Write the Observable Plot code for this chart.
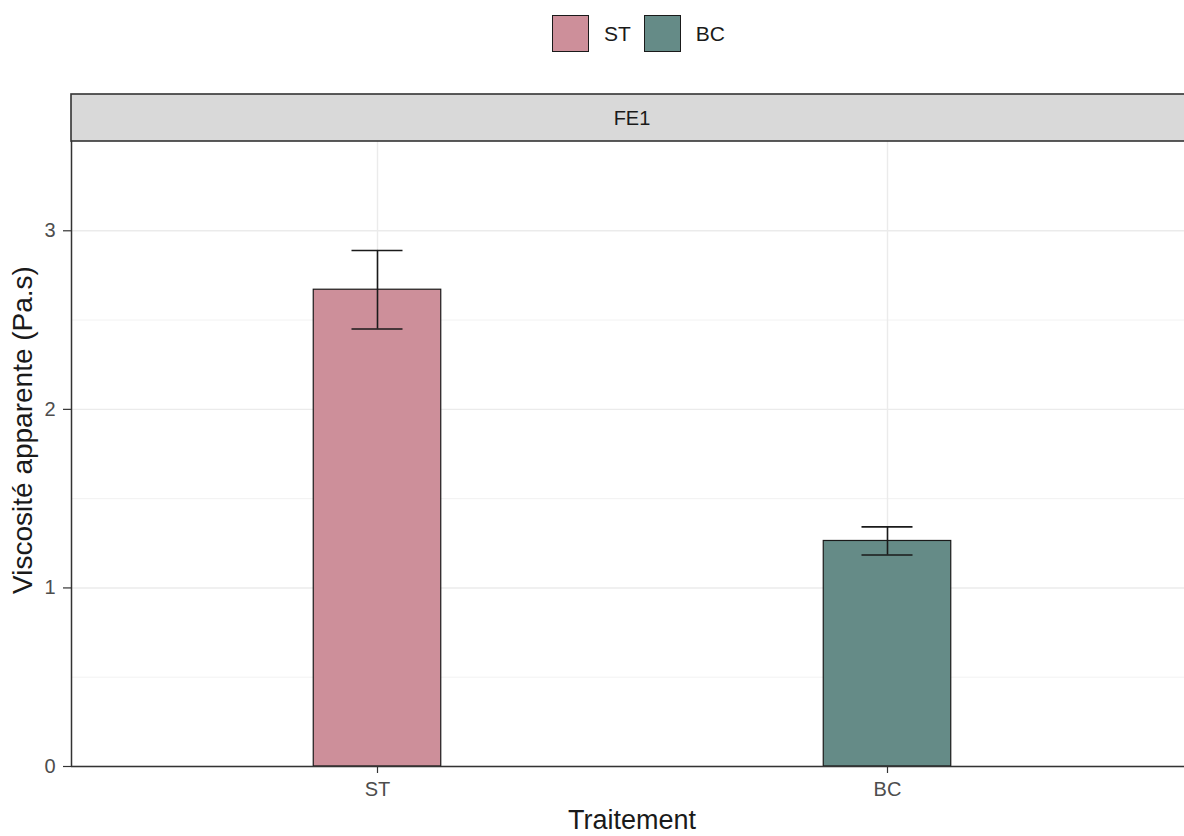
<!DOCTYPE html>
<html>
<head>
<meta charset="utf-8">
<script src="https://cdn.jsdelivr.net/npm/d3@7"></script>
<script src="https://cdn.jsdelivr.net/npm/@observablehq/plot@0.6"></script>
<style>
  html, body { margin: 0; padding: 0; background: #fff; overflow: hidden; }
  #wrap { position: relative; width: 1184px; height: 836px; overflow: hidden; font-family: Arial, "Liberation Sans", sans-serif; }
  #legend { position: absolute; top: 15px; left: 552px; display: flex; align-items: center; }
  .key { display: flex; align-items: center; }
  .sw { width: 37px; height: 37px; border: 1.6px solid #1a1a1a; box-sizing: border-box; }
  .lab { font-size: 21px; color: #1a1a1a; margin-left: 15px; margin-right: 13px; }
  #chart { position: absolute; top: 0; left: 0; }
</style>
</head>
<body>
<div id="wrap"><div id="chart"></div><div id="legend"></div></div>
<script>
const facet = "FE1";
const treatments = ["ST", "BC"];
const means = [2.67, 1.263];
const errors = [0.22, 0.079];
const colors = ["#CD8F9A", "#658B87"];
const yTicks = [0, 1, 2, 3];
const yMinor = [0.5, 1.5, 2.5];
const yTitle = "Viscosité apparente (Pa.s)";
const xTitle = "Traitement";

const data = treatments.map((t, i) => ({t, pos: i + 1, mean: means[i], se: errors[i]}));
const barHalf = 0.125, capHalf = 0.05;

// legend
const leg = document.getElementById("legend");
treatments.forEach((t, i) => {
  const k = document.createElement("div"); k.className = "key";
  const s = document.createElement("div"); s.className = "sw"; s.style.background = colors[i];
  const l = document.createElement("span"); l.className = "lab"; l.textContent = t;
  k.appendChild(s); k.appendChild(l); leg.appendChild(k);
});

const W = 1184, H = 836, mT = 141, mB = 70, mL = 71;
const plot = Plot.plot({
  width: W, height: H,
  marginTop: mT, marginBottom: mB, marginLeft: mL, marginRight: 0,
  style: {fontFamily: "Arial, 'Liberation Sans', sans-serif", background: "white"},
  x: {type: "linear", domain: [0.4, 2.6], range: [mL, mL + 2.2 * 510]},
  y: {domain: [0, 3.5], range: [H - mB, mT]},
  color: {domain: treatments, range: colors},
  marks: [
    Plot.ruleY(yMinor, {stroke: "#f2f2f2", strokeWidth: 1}),
    Plot.ruleY(yTicks, {stroke: "#ebebeb", strokeWidth: 1.4}),
    Plot.ruleX(data, {x: "pos", stroke: "#ebebeb", strokeWidth: 1.4}),
    Plot.rectY(data, {x1: d => d.pos - barHalf, x2: d => d.pos + barHalf, y1: 0, y2: "mean", fill: "t", stroke: "#1a1a1a", strokeWidth: 1.2}),
    Plot.ruleX(data, {x: "pos", y1: d => d.mean - d.se, y2: d => d.mean + d.se, stroke: "#1a1a1a", strokeWidth: 1.6}),
    Plot.ruleY(data, {y: d => d.mean + d.se, x1: d => d.pos - capHalf, x2: d => d.pos + capHalf, stroke: "#1a1a1a", strokeWidth: 1.6}),
    Plot.ruleY(data, {y: d => d.mean - d.se, x1: d => d.pos - capHalf, x2: d => d.pos + capHalf, stroke: "#1a1a1a", strokeWidth: 1.6}),
    Plot.axisY({ticks: yTicks, tickSize: 8, tickPadding: 8, tickFormat: d => d, label: null, fontSize: 20, color: "#4d4d4d", stroke: "#333", strokeWidth: 1.2}),
    Plot.axisX({ticks: data.map(d => d.pos), tickSize: 7, tickPadding: 8, tickFormat: v => treatments[v - 1], label: null, fontSize: 20, color: "#4d4d4d", stroke: "#333", strokeWidth: 1.2}),
    Plot.ruleX([0.4], {stroke: "#333", strokeWidth: 1.5}),
    Plot.ruleY([0], {stroke: "#333", strokeWidth: 1.5})
  ]
});
document.getElementById("chart").appendChild(plot);

// strip and titles
const svg = d3.select(plot);
const xs = plot.scale("x");
const panelL = mL, panelR = xs.range[1];
svg.append("rect").attr("x", panelL).attr("y", 94).attr("width", panelR - panelL).attr("height", mT - 94)
  .attr("fill", "#d9d9d9").attr("stroke", "#333").attr("stroke-width", 1.6);
svg.append("text").attr("x", (panelL + panelR) / 2).attr("y", 118).attr("text-anchor", "middle")
  .attr("dominant-baseline", "central").attr("font-size", 20).attr("fill", "#1a1a1a").text(facet);
svg.append("text").attr("transform", `translate(22,430) rotate(-90)`).attr("text-anchor", "middle")
  .attr("dominant-baseline", "central").attr("font-size", 28).attr("fill", "#1a1a1a").text(yTitle);
svg.append("text").attr("x", (panelL + panelR) / 2).attr("y", 820).attr("text-anchor", "middle")
  .attr("dominant-baseline", "central").attr("font-size", 27).attr("fill", "#1a1a1a").text(xTitle);
</script>
</body>
</html>
